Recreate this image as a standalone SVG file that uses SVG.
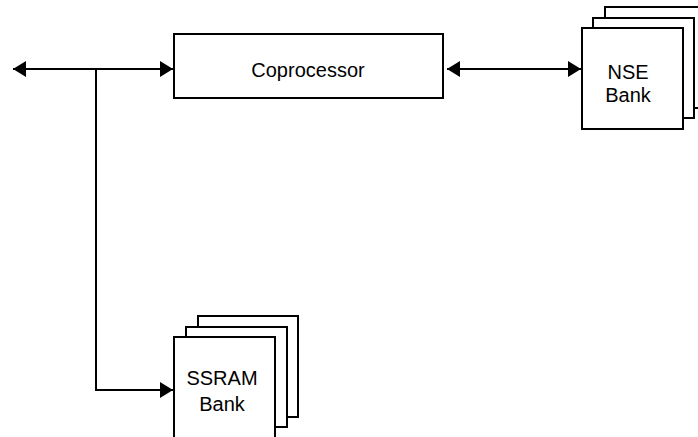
<svg xmlns="http://www.w3.org/2000/svg" width="698" height="437" viewBox="0 0 698 437">
<style>
.box{fill:#fff;stroke:#000;stroke-width:2}
.ln{fill:none;stroke:#000;stroke-width:2}
.t{font-family:"Liberation Sans",Arial,sans-serif;font-size:20px;fill:#000;text-anchor:middle}
</style>
<defs>
<marker id="ah" markerUnits="userSpaceOnUse" markerWidth="14" markerHeight="16" refX="13" refY="8" orient="auto-start-reverse" viewBox="0 0 14 16">
<path d="M0,0 L13,8 L0,16 Z" fill="#000"/>
</marker>
</defs>
<g id="connectors">
<line class="ln" x1="13" y1="69" x2="173" y2="69" marker-start="url(#ah)" marker-end="url(#ah)"/>
<polyline class="ln" points="96,69 96,390 173,390" marker-end="url(#ah)"/>
<line class="ln" x1="447" y1="69" x2="581" y2="69" marker-start="url(#ah)" marker-end="url(#ah)"/>
</g>
<g id="coprocessor">
<rect class="box" x="174" y="34" width="269" height="64"/>
<text class="t" x="308" y="77">Coprocessor</text>
</g>
<g id="nse-bank">
<rect class="box" x="605" y="7" width="101" height="101"/>
<rect class="box" x="593" y="18" width="101" height="100"/>
<rect class="box" x="582" y="28" width="101" height="101"/>
<text class="t" x="628" y="79">NSE</text>
<text class="t" x="628" y="102">Bank</text>
</g>
<g id="ssram-bank">
<rect class="box" x="198" y="316" width="100" height="101"/>
<rect class="box" x="186" y="327" width="101" height="100"/>
<rect class="box" x="174" y="337" width="101" height="102"/>
<text class="t" x="222" y="385">SSRAM</text>
<text class="t" x="222" y="411">Bank</text>
</g>
</svg>
